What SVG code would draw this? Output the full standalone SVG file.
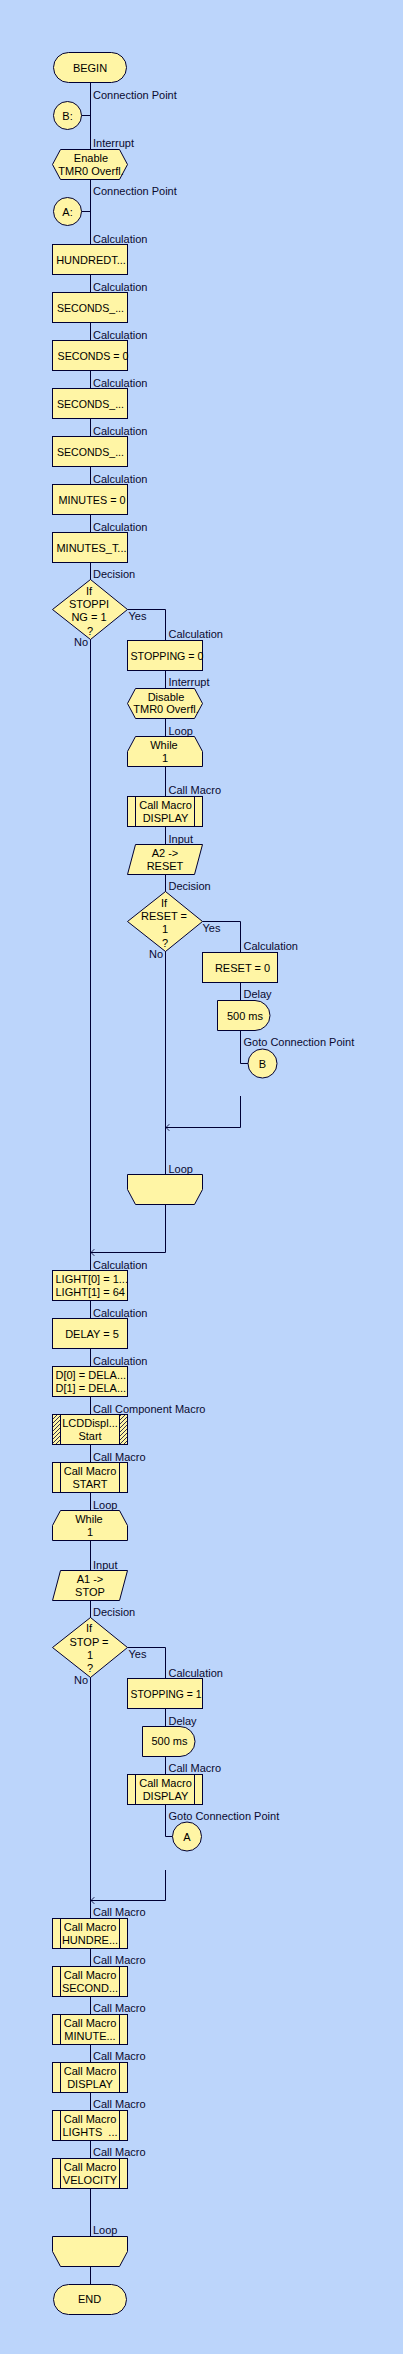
<svg xmlns="http://www.w3.org/2000/svg" width="403" height="2354" viewBox="0 0 403 2354">
<style>
.bg{fill:#BCD5FB}
.n{fill:#FFF5A5;stroke:#000033;stroke-width:1}
.ln{fill:none;stroke:#000033;stroke-width:1}
.t{font-family:"Liberation Sans",Arial,sans-serif;font-size:11px;fill:#000;text-anchor:middle}
.ts{font-family:"Liberation Sans",Arial,sans-serif;font-size:11px;fill:#000}
.l{font-family:"Liberation Sans",Arial,sans-serif;font-size:11px;fill:#0A0A30}
.le{font-family:"Liberation Sans",Arial,sans-serif;font-size:11px;fill:#0A0A30;text-anchor:end}
.h{fill:url(#hatch);stroke:#000033;stroke-width:1}
</style>
<defs>
<pattern id="hatch" patternUnits="userSpaceOnUse" width="4" height="4">
<rect width="4" height="4" fill="#FFF5A5"/>
<path d="M-1,5 L5,-1" stroke="#000033" stroke-width="0.8"/>
</pattern>
<marker id="arr" markerUnits="userSpaceOnUse" markerWidth="10" markerHeight="10" refX="0" refY="0" viewBox="-6 -6 12 12" orient="auto">
<path d="M-4,-4 L0,0 L-4,4" fill="none" stroke="#000033" stroke-width="1"/>
</marker>
</defs>
<rect class="bg" x="0" y="0" width="403" height="2354"/>

<g id="connectors">
<path class="ln" d="M90.5,82.5 V2284.5"/>
<path class="ln" d="M81.5,115.5 H90.5"/>
<path class="ln" d="M81.5,211.5 H90.5"/>
<path class="ln" d="M127.5,609.5 H165.5 V1252.5"/>
<path class="ln" d="M165.5,1252.5 H91" marker-end="url(#arr)"/>
<path class="ln" d="M202.5,921.5 H240.5 V1063.5 H248"/>
<path class="ln" d="M240.5,1096 V1127.5 H166" marker-end="url(#arr)"/>
<path class="ln" d="M127.5,1647.5 H165.5 V1836.5 H172.5"/>
<path class="ln" d="M165.5,1870 V1900.5 H91" marker-end="url(#arr)"/>
</g>

<g id="labels">
<text class="l" x="93" y="99">Connection Point</text>
<text class="l" x="93" y="147">Interrupt</text>
<text class="l" x="93" y="195">Connection Point</text>
<text class="l" x="93" y="243">Calculation</text>
<text class="l" x="93" y="291">Calculation</text>
<text class="l" x="93" y="339">Calculation</text>
<text class="l" x="93" y="387">Calculation</text>
<text class="l" x="93" y="435">Calculation</text>
<text class="l" x="93" y="483">Calculation</text>
<text class="l" x="93" y="531">Calculation</text>
<text class="l" x="93" y="578">Decision</text>
<text class="l" x="128.5" y="620">Yes</text>
<text class="le" x="88" y="646">No</text>
<text class="l" x="168.5" y="638">Calculation</text>
<text class="l" x="168.5" y="686">Interrupt</text>
<text class="l" x="168.5" y="734.5">Loop</text>
<text class="l" x="168.5" y="794">Call Macro</text>
<text class="l" x="168.5" y="842.5">Input</text>
<text class="l" x="168.5" y="890">Decision</text>
<text class="l" x="202.5" y="931.5">Yes</text>
<text class="le" x="163" y="958">No</text>
<text class="l" x="243.5" y="950">Calculation</text>
<text class="l" x="243.5" y="998">Delay</text>
<text class="l" x="243.5" y="1046">Goto Connection Point</text>
<text class="l" x="168.5" y="1172.5">Loop</text>
<text class="l" x="93" y="1268.5">Calculation</text>
<text class="l" x="93" y="1316.5">Calculation</text>
<text class="l" x="93" y="1364.5">Calculation</text>
<text class="l" x="93" y="1412.5">Call Component Macro</text>
<text class="l" x="93" y="1460.5">Call Macro</text>
<text class="l" x="93" y="1508.5">Loop</text>
<text class="l" x="93" y="1568.5">Input</text>
<text class="l" x="93" y="1616">Decision</text>
<text class="l" x="128.5" y="1658">Yes</text>
<text class="le" x="88" y="1684">No</text>
<text class="l" x="168.5" y="1676.5">Calculation</text>
<text class="l" x="168.5" y="1724.5">Delay</text>
<text class="l" x="168.5" y="1772">Call Macro</text>
<text class="l" x="168.5" y="1820">Goto Connection Point</text>
<text class="l" x="93" y="1916">Call Macro</text>
<text class="l" x="93" y="1964">Call Macro</text>
<text class="l" x="93" y="2012">Call Macro</text>
<text class="l" x="93" y="2060">Call Macro</text>
<text class="l" x="93" y="2108">Call Macro</text>
<text class="l" x="93" y="2156">Call Macro</text>
<text class="l" x="93" y="2234">Loop</text>
</g>

<g id="begin"><rect class="n" x="53.5" y="52.5" width="73" height="30" rx="15" ry="15"/><text class="t" x="90" y="72">BEGIN</text></g>
<g id="cpB"><circle class="n" cx="67.5" cy="115.5" r="14"/><text class="t" x="67.5" y="119.5">B:</text></g>
<g id="enableInt"><polygon class="n" points="52.5,164.5 60.5,149.5 119.5,149.5 127.5,164.5 119.5,179.5 60.5,179.5"/><text class="t" x="91" y="162">Enable</text><text class="t" x="91" y="174.5">TMR0 Overfl.</text></g>
<g id="cpA"><circle class="n" cx="67.5" cy="211.5" r="14"/><text class="t" x="67.5" y="215.5">A:</text></g>
<g id="calc1"><rect class="n" x="52.5" y="244.5" width="75" height="30"/><text class="t" x="91" y="263.5">HUNDREDT...</text></g>
<g id="calc2"><rect class="n" x="52.5" y="292.5" width="75" height="30"/><text class="t" x="90.5" y="311.5" textLength="67" lengthAdjust="spacingAndGlyphs">SECONDS_...</text></g>
<g id="calc3"><rect class="n" x="52.5" y="340.5" width="75" height="30"/><text class="ts" x="57.5" y="359.5" textLength="71" lengthAdjust="spacingAndGlyphs">SECONDS = 0</text></g>
<g id="calc4"><rect class="n" x="52.5" y="388.5" width="75" height="30"/><text class="t" x="90.5" y="407.5" textLength="67" lengthAdjust="spacingAndGlyphs">SECONDS_...</text></g>
<g id="calc5"><rect class="n" x="52.5" y="436.5" width="75" height="30"/><text class="t" x="90.5" y="455.5" textLength="67" lengthAdjust="spacingAndGlyphs">SECONDS_...</text></g>
<g id="calc6"><rect class="n" x="52.5" y="484.5" width="75" height="30"/><text class="t" x="92" y="503.5" textLength="67" lengthAdjust="spacingAndGlyphs">MINUTES = 0</text></g>
<g id="calc7"><rect class="n" x="52.5" y="532.5" width="75" height="30"/><text class="t" x="91.5" y="551.5" textLength="70" lengthAdjust="spacingAndGlyphs">MINUTES_T...</text></g>
<g id="dec1"><polygon class="n" points="90.5,579.5 127.5,609.5 90.5,639.5 52.5,609.5"/><text class="t" x="89" y="594.5">If</text><text class="t" x="89" y="608">STOPPI</text><text class="t" x="89" y="621.3">NG = 1</text><text class="t" x="90" y="634.7">?</text></g>
<g id="calc8"><rect class="n" x="127.5" y="640.5" width="75" height="30"/><text class="ts" x="130.5" y="659.5" textLength="73" lengthAdjust="spacingAndGlyphs">STOPPING = 0</text></g>
<g id="disableInt"><polygon class="n" points="127.5,703.5 135.5,688.5 194.5,688.5 202.5,703.5 194.5,718.5 135.5,718.5"/><text class="t" x="166" y="700.7">Disable</text><text class="t" x="166" y="713.3">TMR0 Overfl.</text></g>
<g id="while1"><path class="n" d="M135.5,736.5 H194.5 L202.5,751.5 V766.5 H127.5 V751.5 Z"/><text class="t" x="164" y="749">While</text><text class="t" x="165" y="761.7">1</text></g>
<g id="callDisp1"><rect class="n" x="127.5" y="796.5" width="75" height="30"/><path class="ln" d="M135.5,796.5 V826.5 M194.5,796.5 V826.5"/><text class="t" x="165.5" y="809">Call Macro</text><text class="t" x="165.5" y="821.7">DISPLAY</text></g>
<g id="inputReset"><polygon class="n" points="135.5,844.5 202.5,844.5 194.5,874.5 127.5,874.5"/><text class="t" x="165" y="856.7">A2 -&gt;</text><text class="t" x="165" y="869.7">RESET</text></g>
<g id="dec2"><polygon class="n" points="165.5,891.5 202.5,921.5 165.5,951.5 127.5,921.5"/><text class="t" x="164" y="906.7">If</text><text class="t" x="164" y="920">RESET =</text><text class="t" x="165" y="933.3">1</text><text class="t" x="165" y="946.7">?</text></g>
<g id="calcReset"><rect class="n" x="202.5" y="952.5" width="75" height="30"/><text class="t" x="242.5" y="971.7">RESET = 0</text></g>
<g id="delay1"><path class="n" d="M217.5,1000.5 H255 A15,15 0 0 1 255,1030.5 H217.5 Z"/><text class="t" x="245" y="1019.7">500 ms</text></g>
<g id="gotoB"><circle class="n" cx="262.5" cy="1063.5" r="14.5"/><text class="t" x="262.5" y="1067.5">B</text></g>
<g id="loopEnd1"><path class="n" d="M127.5,1174.5 H202.5 V1189.5 L194.5,1204.5 H135.5 L127.5,1189.5 Z"/></g>
<g id="calcLight"><rect class="n" x="52.5" y="1270.5" width="75" height="30"/><text class="ts" x="55.5" y="1283">LIGHT[0] = 1...</text><text class="ts" x="55.5" y="1295.7">LIGHT[1] = 64</text></g>
<g id="calcDelay"><rect class="n" x="52.5" y="1318.5" width="75" height="30"/><text class="t" x="92" y="1337.5">DELAY = 5</text></g>
<g id="calcD"><rect class="n" x="52.5" y="1366.5" width="75" height="30"/><text class="ts" x="55.5" y="1379">D[0] = DELA...</text><text class="ts" x="55.5" y="1392.3">D[1] = DELA...</text></g>
<g id="lcdStart"><rect class="n" x="52.5" y="1414.5" width="75" height="30"/><rect class="h" x="52.5" y="1414.5" width="8" height="30"/><rect class="h" x="119.5" y="1414.5" width="8" height="30"/><text class="t" x="90" y="1427.3">LCDDispl...</text><text class="t" x="90" y="1440">Start</text></g>
<g id="callStart"><rect class="n" x="52.5" y="1462.5" width="75" height="30"/><path class="ln" d="M60.5,1462.5 V1492.5 M119.5,1462.5 V1492.5"/><text class="t" x="90" y="1475">Call Macro</text><text class="t" x="90" y="1487.7">START</text></g>
<g id="while2"><path class="n" d="M60.5,1510.5 H119.5 L127.5,1525.5 V1540.5 H52.5 V1525.5 Z"/><text class="t" x="89" y="1523">While</text><text class="t" x="90" y="1535.7">1</text></g>
<g id="inputStop"><polygon class="n" points="60.5,1570.5 127.5,1570.5 119.5,1600.5 52.5,1600.5"/><text class="t" x="90" y="1583">A1 -&gt;</text><text class="t" x="90" y="1595.7">STOP</text></g>
<g id="dec3"><polygon class="n" points="90.5,1617.5 127.5,1647.5 90.5,1677.5 52.5,1647.5"/><text class="t" x="89" y="1632.3">If</text><text class="t" x="89" y="1645.7">STOP =</text><text class="t" x="90" y="1659">1</text><text class="t" x="90" y="1672.3">?</text></g>
<g id="calcStopping1"><rect class="n" x="127.5" y="1678.5" width="75" height="30"/><text class="ts" x="130.5" y="1697.5" textLength="71" lengthAdjust="spacingAndGlyphs">STOPPING = 1</text></g>
<g id="delay2"><path class="n" d="M142.5,1726.5 H180 A15,15 0 0 1 180,1756.5 H142.5 Z"/><text class="t" x="169.5" y="1745">500 ms</text></g>
<g id="callDisp2"><rect class="n" x="127.5" y="1774.5" width="75" height="30"/><path class="ln" d="M135.5,1774.5 V1804.5 M194.5,1774.5 V1804.5"/><text class="t" x="165.5" y="1786.7">Call Macro</text><text class="t" x="165.5" y="1799.7">DISPLAY</text></g>
<g id="gotoA"><circle class="n" cx="187" cy="1836.5" r="14.5"/><text class="t" x="187" y="1840.5">A</text></g>
<g id="callHundre"><rect class="n" x="52.5" y="1918.5" width="75" height="30"/><path class="ln" d="M60.5,1918.5 V1948.5 M119.5,1918.5 V1948.5"/><text class="t" x="90" y="1931">Call Macro</text><text class="t" x="90" y="1943.7">HUNDRE...</text></g>
<g id="callSecond"><rect class="n" x="52.5" y="1966.5" width="75" height="30"/><path class="ln" d="M60.5,1966.5 V1996.5 M119.5,1966.5 V1996.5"/><text class="t" x="90" y="1979">Call Macro</text><text class="t" x="90" y="1991.7">SECOND...</text></g>
<g id="callMinute"><rect class="n" x="52.5" y="2014.5" width="75" height="30"/><path class="ln" d="M60.5,2014.5 V2044.5 M119.5,2014.5 V2044.5"/><text class="t" x="90" y="2027">Call Macro</text><text class="t" x="90" y="2039.7">MINUTE...</text></g>
<g id="callDisplay3"><rect class="n" x="52.5" y="2062.5" width="75" height="30"/><path class="ln" d="M60.5,2062.5 V2092.5 M119.5,2062.5 V2092.5"/><text class="t" x="90" y="2075">Call Macro</text><text class="t" x="90" y="2087.7">DISPLAY</text></g>
<g id="callLights"><rect class="n" x="52.5" y="2110.5" width="75" height="30"/><path class="ln" d="M60.5,2110.5 V2140.5 M119.5,2110.5 V2140.5"/><text class="t" x="90" y="2123">Call Macro</text><text class="t" x="90" y="2135.7" xml:space="preserve">LIGHTS  ...</text></g>
<g id="callVelocity"><rect class="n" x="52.5" y="2158.5" width="75" height="30"/><path class="ln" d="M60.5,2158.5 V2188.5 M119.5,2158.5 V2188.5"/><text class="t" x="90" y="2171">Call Macro</text><text class="t" x="90" y="2183.7">VELOCITY</text></g>
<g id="loopEnd2"><path class="n" d="M52.5,2236.5 H127.5 V2251.5 L119.5,2266.5 H60.5 L52.5,2251.5 Z"/></g>
<g id="end"><rect class="n" x="53.5" y="2284.5" width="73" height="30" rx="15" ry="15"/><text class="t" x="89.5" y="2303">END</text></g>
</svg>
